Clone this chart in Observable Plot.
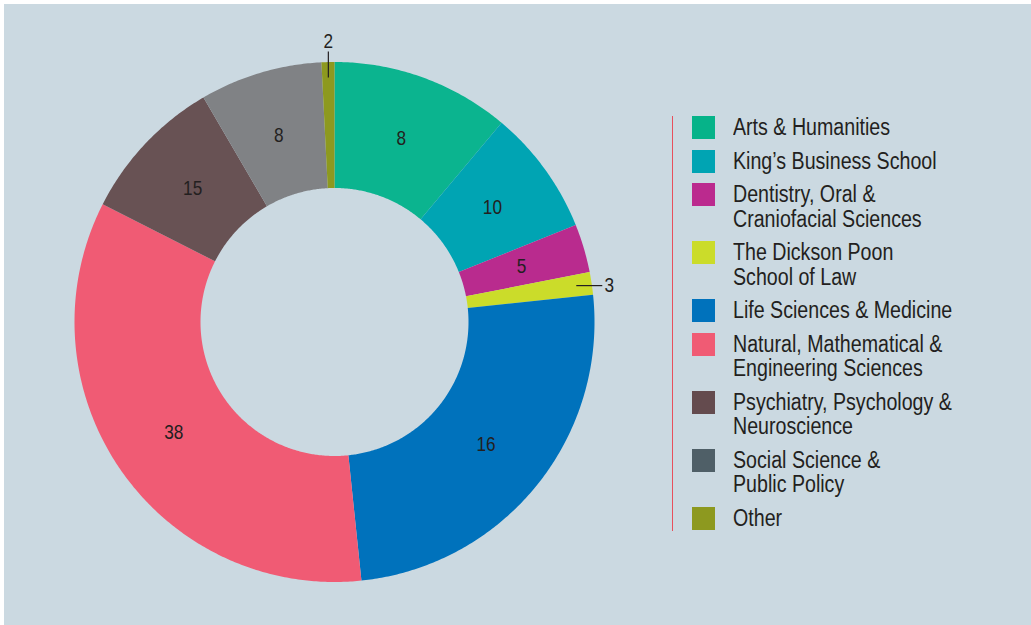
<!DOCTYPE html>
<html>
<head>
<meta charset="utf-8">
<script src="https://cdn.jsdelivr.net/npm/d3@7"></script>
<script src="https://cdn.jsdelivr.net/npm/@observablehq/plot@0.6"></script>
<style>
html, body { margin: 0; padding: 0; background: #ffffff; }
#frame { position: relative; width: 1031px; height: 625px; overflow: hidden; }
#bg { position: absolute; left: 4px; top: 4px; right: 0; bottom: 0; background: #cbd9e1; }
#chart { position: absolute; left: 0; top: 0; }
#rule { position: absolute; left: 672px; top: 116px; width: 1px; height: 415px; background: #e8505c; }
#legend { position: absolute; left: 692px; top: 115px; font-family: "Liberation Sans", Arial, sans-serif; font-size: 23.5px; line-height: 24.5px; color: #231f20; }
.item { display: flex; align-items: flex-start; margin-bottom: 9px; }
.sw { width: 23px; height: 23px; flex: none; margin-top: 1px; }
.tx { margin-left: 18px; white-space: pre; transform: scaleX(0.835); transform-origin: 0 0; }
</style>
</head>
<body>
<div id="frame"><div id="bg"></div><div id="chart"></div><div id="rule"></div><div id="legend"></div></div>
<script>
// ---- data ----
const categories = [
  "Arts & Humanities",
  "King’s Business School",
  "Dentistry, Oral & Craniofacial Sciences",
  "The Dickson Poon School of Law",
  "Life Sciences & Medicine",
  "Natural, Mathematical & Engineering Sciences",
  "Psychiatry, Psychology & Neuroscience",
  "Social Science & Public Policy",
  "Other"
];
const legendText = [
  "Arts & Humanities",
  "King’s Business School",
  "Dentistry, Oral &\nCraniofacial Sciences",
  "The Dickson Poon\nSchool of Law",
  "Life Sciences & Medicine",
  "Natural, Mathematical &\nEngineering Sciences",
  "Psychiatry, Psychology &\nNeuroscience",
  "Social Science &\nPublic Policy",
  "Other"
];
// slice sizes (share of circle, %)
const shares = [11.1, 7.8, 3.0, 1.4, 25.0, 34.1, 9.1, 7.6, 0.8];
// numbers printed on the slices
const valueLabels = ["8", "10", "5", "3", "16", "38", "15", "8", "2"];
const sliceColors = ["#0bb48f", "#00a4b3", "#b92b8e", "#cbdc2a", "#0072bc", "#f05b74", "#685254", "#808285", "#8d991f"];
const legendColors = ["#06b389", "#00a4b3", "#bb2a8e", "#cbdc2a", "#0072bc", "#f05b74", "#644b4e", "#4f5f67", "#8d991f"];

// ---- geometry ----
const R_OUT = 260, R_IN = 134, R_LABEL = 195, R_LEAD = 244.5, LEAD_LEN = 26;
const arcs = d3.pie().sort(null).value(d => d)(shares);
const slices = arcs.map((p, i) => ({
  key: categories[i], color: sliceColors[i], label: valueLabels[i],
  share: shares[i], a0: p.startAngle, a1: p.endAngle, mid: (p.startAngle + p.endAngle) / 2
}));

const pts = [];
slices.forEach(s => {
  const n = Math.max(4, Math.ceil((s.a1 - s.a0) / (Math.PI / 360)));
  for (let k = 0; k <= n; k++) {
    const a = s.a0 + (s.a1 - s.a0) * k / n;
    pts.push({key: s.key, color: s.color, x: R_OUT * Math.sin(a), y: R_OUT * Math.cos(a)});
  }
  for (let k = n; k >= 0; k--) {
    const a = s.a0 + (s.a1 - s.a0) * k / n;
    pts.push({key: s.key, color: s.color, x: R_IN * Math.sin(a), y: R_IN * Math.cos(a)});
  }
});

const inside = slices.filter(s => s.share >= 2).map(s => ({
  text: s.label, x: R_LABEL * Math.sin(s.mid), y: R_LABEL * Math.cos(s.mid)
}));
const leaders = [], outside = [];
slices.filter(s => s.share < 2).forEach(s => {
  const sx = Math.sin(s.mid), cy = Math.cos(s.mid);
  const x1 = R_LEAD * sx, y1 = R_LEAD * cy;
  if (Math.abs(cy) > Math.abs(sx)) {
    const d = Math.sign(cy);
    leaders.push({x1, y1, x2: x1, y2: y1 + d * LEAD_LEN});
    outside.push({text: s.label, x: x1, y: y1 + d * (LEAD_LEN + 10)});
  } else {
    const d = Math.sign(sx);
    leaders.push({x1, y1, x2: x1 + d * LEAD_LEN, y2: y1});
    outside.push({text: s.label, x: x1 + d * (LEAD_LEN + 7), y: y1});
  }
});

const chart = Plot.plot({
  width: 1031, height: 625, margin: 0,
  x: {domain: [-334, 697], axis: null},
  y: {domain: [-303.5, 321.5], axis: null},
  color: {type: "identity"},
  style: {background: "transparent", overflow: "visible"},
  marks: [
    Plot.line(pts, {x: "x", y: "y", z: "key", fill: "color", stroke: "none", curve: "linear-closed"}),
    Plot.text(inside, {x: "x", y: "y", text: "text", fontSize: 21, fill: "#231f20", fontFamily: "Liberation Sans"}),
    Plot.link(leaders, {x1: "x1", y1: "y1", x2: "x2", y2: "y2", stroke: "#231f20", strokeWidth: 1.2}),
    Plot.text(outside, {x: "x", y: "y", text: "text", fontSize: 21, fill: "#231f20", fontFamily: "Liberation Sans"})
  ]
});
document.getElementById("chart").append(chart);
chart.querySelectorAll("text").forEach(t => {
  const L = t.getComputedTextLength();
  t.setAttribute("textLength", (L * 0.82).toFixed(2));
  t.setAttribute("lengthAdjust", "spacingAndGlyphs");
});

// ---- legend ----
const legend = document.getElementById("legend");
legendText.forEach((txt, i) => {
  const item = document.createElement("div");
  item.className = "item";
  const sw = document.createElement("div");
  sw.className = "sw";
  sw.style.background = legendColors[i];
  const tx = document.createElement("div");
  tx.className = "tx";
  tx.textContent = txt;
  item.append(sw, tx);
  legend.append(item);
});
</script>
</body>
</html>
